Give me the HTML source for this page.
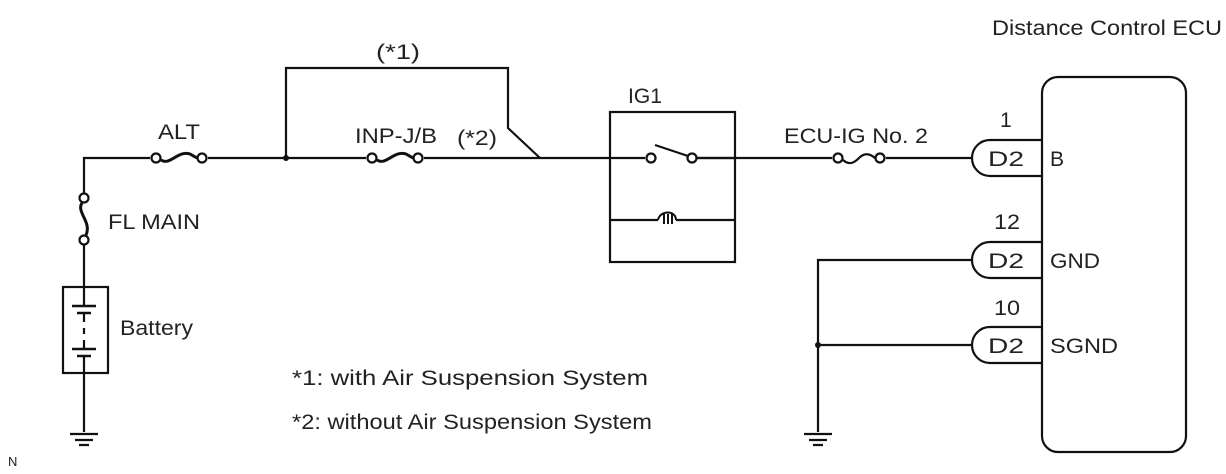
<!DOCTYPE html>
<html><head><style>
body{margin:0;background:#fff}
svg{display:block}
text{font-family:"Liberation Sans",Arial,sans-serif;font-size:21px;fill:#222}
</style></head><body>
<svg width="1226" height="474" viewBox="0 0 1226 474" xmlns="http://www.w3.org/2000/svg">
<g stroke="#111" stroke-width="2.2" fill="none">
<path d="M84 198 V158 H150 M208 158 H366 M424 158 H645 M697 158 H832 M886 158 H972"/>
<path d="M286 158 V68 H508 V128 L540 158"/>
<circle cx="156" cy="158" r="4.5" fill="#fff"/><circle cx="202" cy="158" r="4.5" fill="#fff"/>
<path d="M161 160 C170 166 178 150 190 154 C194 156 196 158 198 158" stroke-width="3"/>
<circle cx="372" cy="158" r="4.5" fill="#fff"/><circle cx="418" cy="158" r="4.5" fill="#fff"/>
<path d="M377 160 C386 166 394 150 406 154 C410 156 412 158 414 158" stroke-width="3"/>
<circle cx="84" cy="198" r="4.5" fill="#fff"/><circle cx="84" cy="240" r="4.5" fill="#fff"/>
<path d="M82 203 C76 212 92 222 86 235" stroke-width="3"/>
<path d="M84 245 V287 M84 373 V432"/>
<rect x="63" y="287" width="45" height="86"/>
<path d="M72 306 H96 M77 313 H91 M72 349 H96 M77 356 H91" stroke-width="2.5"/>
<path d="M84 287 V306 M84 313 V322 M84 328 V334 M84 340 V349 M84 356 V373"/>
<path d="M70 434 H98 M75 440 H93 M79 445 H89"/>
<path d="M804 434 H832 M809 440 H827 M813 445 H823"/>
<rect x="610" y="112" width="125" height="150"/>
<circle cx="651" cy="158" r="4.5" fill="#fff"/><circle cx="692" cy="158" r="4.5" fill="#fff"/>
<path d="M655 145 L688 156"/>
<path d="M697 158 H735 M610 220 H658 M676 220 H735"/>
<path d="M658 220 C660 210 676 210 676 220 M664 214 V224 M668 214 V224 M672 214 V224" stroke-width="2"/>
<circle cx="838" cy="158" r="4.5" fill="#fff"/><circle cx="880" cy="158" r="4.5" fill="#fff"/>
<path d="M843 160 C850 166 855 162 859 158 C863 154 868 152 875 158"/>
<path d="M972 260 H818 V432 M818 345 H972"/>
<path d="M1042 140 H990 A18 18 0 0 0 990 176 H1042"/>
<path d="M1042 242 H990 A18 18 0 0 0 990 278 H1042"/>
<path d="M1042 327 H990 A18 18 0 0 0 990 363 H1042"/>
<rect x="1042" y="77" width="144" height="375" rx="16"/>
</g>
<circle cx="286" cy="158" r="3" fill="#111"/>
<circle cx="818" cy="345" r="3" fill="#111"/>
<g lengthAdjust="spacingAndGlyphs">
<text x="992" y="35" textLength="230" lengthAdjust="spacingAndGlyphs">Distance Control ECU</text>
<text x="376" y="59" textLength="44" lengthAdjust="spacingAndGlyphs">(*1)</text>
<text x="158" y="139" textLength="42" lengthAdjust="spacingAndGlyphs">ALT</text>
<text x="355" y="143" textLength="82" lengthAdjust="spacingAndGlyphs">INP-J/B</text>
<text x="457" y="145" textLength="40" lengthAdjust="spacingAndGlyphs">(*2)</text>
<text x="628" y="103" textLength="34" lengthAdjust="spacingAndGlyphs">IG1</text>
<text x="784" y="143" textLength="144" lengthAdjust="spacingAndGlyphs">ECU-IG No. 2</text>
<text x="108" y="229" textLength="92" lengthAdjust="spacingAndGlyphs">FL MAIN</text>
<text x="120" y="335" textLength="73" lengthAdjust="spacingAndGlyphs">Battery</text>
<text x="292" y="385" textLength="356" lengthAdjust="spacingAndGlyphs">*1: with Air Suspension System</text>
<text x="292" y="429" textLength="360" lengthAdjust="spacingAndGlyphs">*2: without Air Suspension System</text>
<text x="1000" y="127">1</text>
<text x="994" y="229" textLength="26" lengthAdjust="spacingAndGlyphs">12</text>
<text x="994" y="315" textLength="26" lengthAdjust="spacingAndGlyphs">10</text>
<text x="988" y="166" textLength="36" lengthAdjust="spacingAndGlyphs">D2</text>
<text x="988" y="268" textLength="36" lengthAdjust="spacingAndGlyphs">D2</text>
<text x="988" y="353" textLength="36" lengthAdjust="spacingAndGlyphs">D2</text>
<text x="1050" y="166">B</text>
<text x="1050" y="268" textLength="50" lengthAdjust="spacingAndGlyphs">GND</text>
<text x="1050" y="353" textLength="68" lengthAdjust="spacingAndGlyphs">SGND</text>
</g>
<text x="8" y="466" style="font-size:13px">N</text>
</svg>
</body></html>
